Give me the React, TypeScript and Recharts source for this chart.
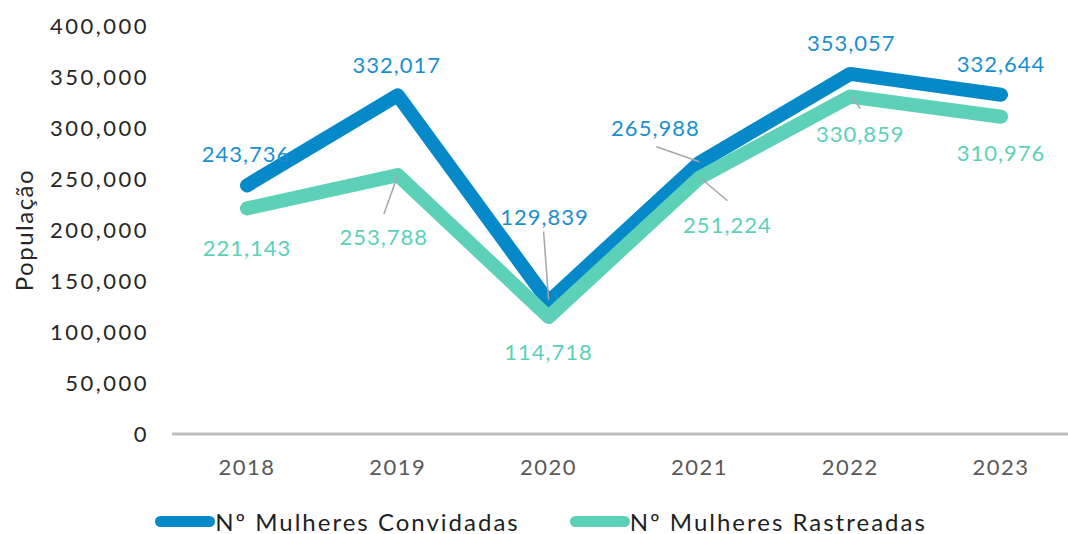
import { LabelList, Legend, Line, LineChart, XAxis, YAxis } from "recharts";

const years = ["2018", "2019", "2020", "2021", "2022", "2023"];
const convidadas = [243736, 332017, 129839, 265988, 353057, 332644];
const rastreadas = [221143, 253788, 114718, 251224, 330859, 310976];
const yTicks = [0, 50000, 100000, 150000, 200000, 250000, 300000, 350000, 400000];

const BLUE = "#0589c9";
const TEAL = "#5cd1b8";
const FONT = "Lato, 'Open Sans', sans-serif";

const data = years.map((year, i) => ({
  year,
  convidadas: convidadas[i],
  rastreadas: rastreadas[i],
}));

// label placement relative to the point: text centre + optional leader line
type Place = { dx: number; dy: number; leader?: [number, number, number, number] };

const bluePlaces: Place[] = [
  { dx: -1, dy: -32 },
  { dx: -1, dy: -31 },
  { dx: -4, dy: -85, leader: [-5, -70, 0, -2] },
  { dx: -44, dy: -35, leader: [-43, -16, 0, -1] },
  { dx: 1, dy: -31 },
  { dx: 0, dy: -31 },
];

const tealPlaces: Place[] = [
  { dx: 0, dy: 39 },
  { dx: -14, dy: 61, leader: [-14, 39, 0, 0] },
  { dx: 0, dy: 35 },
  { dx: 28, dy: 47, leader: [1, 0, 28, 23] },
  { dx: 10, dy: 37, leader: [2, 0, 10, 12] },
  { dx: 0, dy: 36 },
];

const fmt = (v: number) => Number(v).toLocaleString("en-US");

function makeLabel(places: Place[], color: string, mode: "text" | "leader") {
  return (props: any) => {
    const { x, y, index, value } = props;
    const p = places[index];
    if (!p) return null;
    if (mode === "leader") {
      if (!p.leader) return null;
      const [x1, y1, x2, y2] = p.leader;
      return (
        <line
          x1={x + x1}
          y1={y + y1}
          x2={x + x2}
          y2={y + y2}
          stroke="#a6a6a6"
          strokeWidth={1.5}
        />
      );
    }
    return (
      <text
        x={x + p.dx}
        y={y + p.dy}
        fill={color}
        fontSize={22}
        fontFamily={FONT}
        letterSpacing={1}
        textAnchor="middle"
        dominantBaseline="central"
      >
        {fmt(value)}
      </text>
    );
  };
}

const legendItems = [
  { name: "Nº Mulheres Convidadas", color: BLUE },
  { name: "Nº Mulheres Rastreadas", color: TEAL },
];

function LegendContent() {
  return (
    <div
      style={{
        height: 50,
        display: "flex",
        justifyContent: "center",
        alignItems: "center",
        paddingTop: 24,
        paddingLeft: 6,
        boxSizing: "border-box",
        gap: 50,
        fontFamily: FONT,
        fontSize: 24,
        color: "#1f1f1f",
      }}
    >
      {legendItems.map((it) => (
        <div key={it.name} style={{ display: "flex", alignItems: "center" }}>
          <span
            style={{
              width: 60,
              height: 11,
              borderRadius: 6,
              background: it.color,
              display: "inline-block",
            }}
          />
          <span style={{ letterSpacing: 2 }}>{it.name}</span>
        </div>
      ))}
    </div>
  );
}

function YLabel(props: any) {
  const { viewBox } = props;
  const cy = viewBox.y + viewBox.height / 2;
  return (
    <text
      x={23}
      y={cy}
      transform={`rotate(-90, 23, ${cy})`}
      textAnchor="middle"
      dominantBaseline="central"
      fontSize={24}
      fontFamily={FONT}
      letterSpacing={1.5}
      fill="#262626"
    >
      População
    </text>
  );
}

export default function App() {
  return (
    <div
      style={{
        position: "fixed",
        left: 0,
        top: 0,
        width: 1068,
        height: 534,
        overflow: "hidden",
        background: "#fff",
        fontFamily: FONT,
      }}
    >
      <LineChart
        width={1076}
        height={534}
        data={data}
        margin={{ top: 26, right: 0, bottom: 0, left: 0 }}
      >
        <XAxis
          dataKey="year"
          height={50}
          padding={{ left: 75, right: 75 }}
          axisLine={{ stroke: "#bfbfbf", strokeWidth: 3 }}
          tickLine={false}
          tickSize={0}
          tickMargin={25}
          tick={{ fill: "#595959", fontSize: 22, fontFamily: FONT, letterSpacing: 1.5 }}
        />
        <YAxis
          width={172}
          domain={[0, 400000]}
          ticks={yTicks}
          axisLine={false}
          tickLine={false}
          tickSize={0}
          tickMargin={23}
          tickFormatter={fmt}
          tick={{ fill: "#262626", fontSize: 22, fontFamily: FONT, letterSpacing: 2.5 }}
          label={<YLabel />}
        />
        <Legend verticalAlign="bottom" height={50} content={() => <LegendContent />} />
        <Line
          dataKey="convidadas"
          stroke="none"
          dot={false}
          activeDot={false}
          legendType="none"
          isAnimationActive={false}
        >
          <LabelList dataKey="convidadas" content={makeLabel(bluePlaces, "#1a8fd0", "text")} />
        </Line>
        <Line
          dataKey="rastreadas"
          stroke="none"
          dot={false}
          activeDot={false}
          legendType="none"
          isAnimationActive={false}
        >
          <LabelList dataKey="rastreadas" content={makeLabel(tealPlaces, TEAL, "text")} />
        </Line>
        <Line
          dataKey="convidadas"
          name="Nº Mulheres Convidadas"
          stroke={BLUE}
          strokeWidth={14}
          strokeLinecap="round"
          strokeLinejoin="round"
          dot={false}
          activeDot={false}
          isAnimationActive={false}
        />
        <Line
          dataKey="rastreadas"
          name="Nº Mulheres Rastreadas"
          stroke={TEAL}
          strokeWidth={14}
          strokeLinecap="round"
          strokeLinejoin="round"
          dot={false}
          activeDot={false}
          isAnimationActive={false}
        />
        <Line
          dataKey="convidadas"
          stroke="none"
          dot={false}
          activeDot={false}
          legendType="none"
          isAnimationActive={false}
        >
          <LabelList dataKey="convidadas" content={makeLabel(bluePlaces, BLUE, "leader")} />
        </Line>
        <Line
          dataKey="rastreadas"
          stroke="none"
          dot={false}
          activeDot={false}
          legendType="none"
          isAnimationActive={false}
        >
          <LabelList dataKey="rastreadas" content={makeLabel(tealPlaces, TEAL, "leader")} />
        </Line>
      </LineChart>
    </div>
  );
}
